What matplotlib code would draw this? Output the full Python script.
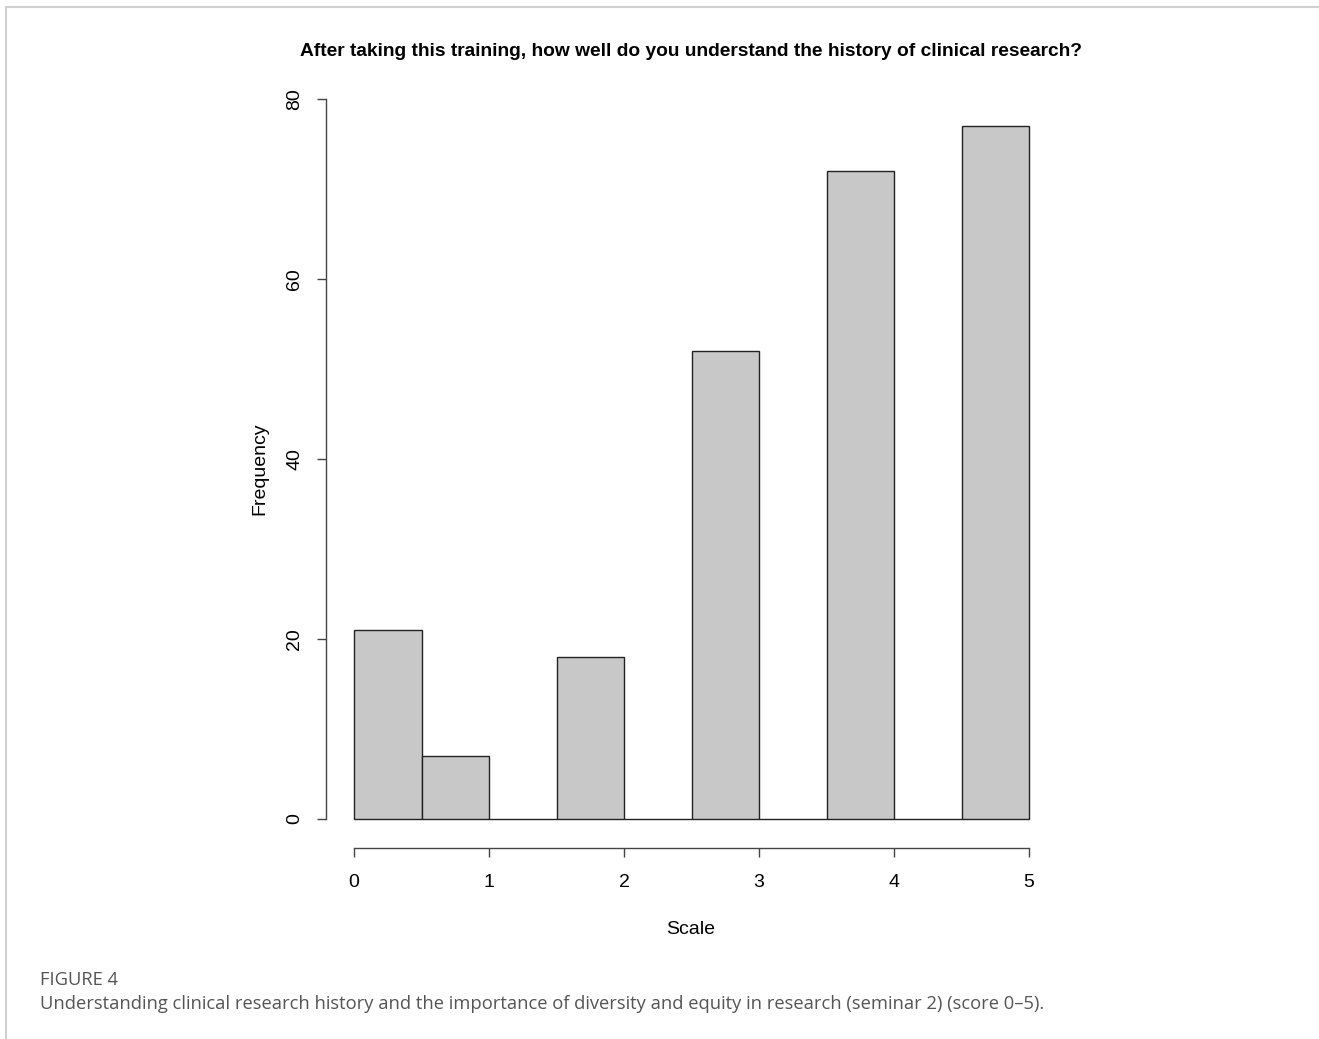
import matplotlib
matplotlib.use("Agg")
import matplotlib.pyplot as plt
from matplotlib.lines import Line2D

# Histogram bins (width 0.5) and counts
bin_edges = [0.0, 0.5, 1.0, 1.5, 2.0, 2.5, 3.0, 3.5, 4.0, 4.5, 5.0]
counts = [21, 7, 0, 18, 0, 52, 0, 72, 0, 77]
x_ticks = [0, 1, 2, 3, 4, 5]
y_ticks = [0, 20, 40, 60, 80]

title = "After taking this training, how well do you understand the history of clinical research?"
caption_head = "FIGURE 4"
caption_text = ("Understanding clinical research history and the importance of diversity "
                "and equity in research (seminar 2) (score 0\u20135).")

W, H = 1319, 1039
fig = plt.figure(figsize=(W / 100, H / 100), dpi=100)

# plot area in pixels: x 0..5 -> 354..1029, y 0..80 -> 819..99
left, right, top, bottom = 354, 1029, 99, 819
ax = fig.add_axes([left / W, 1 - bottom / H, (right - left) / W, (bottom - top) / H])

widths = [bin_edges[i + 1] - bin_edges[i] for i in range(len(counts))]
bars = ax.bar(bin_edges[:-1], counts, width=widths, align="edge",
              color="#c8c8c8", edgecolor="#222222", linewidth=1.0)
for b in bars:
    b.set_clip_on(False)
ax.set_xlim(bin_edges[0], bin_edges[-1])
ax.set_ylim(y_ticks[0], y_ticks[-1])

font = "Liberation Sans"
for s in ["top", "right"]:
    ax.spines[s].set_visible(False)
ax.spines["left"].set_position(("outward", 20))
ax.spines["bottom"].set_position(("outward", 21))
ax.spines["left"].set_bounds(y_ticks[0], y_ticks[-1])
ax.spines["bottom"].set_bounds(x_ticks[0], x_ticks[-1])
for s in ["left", "bottom"]:
    ax.spines[s].set_color("#444444")
    ax.spines[s].set_linewidth(1.0)

ax.set_xticks(x_ticks)
ax.set_yticks(y_ticks)
ax.tick_params(axis="both", direction="out", length=6.5, width=1.0, color="#444444")
ax.tick_params(axis="x", pad=12)
ax.tick_params(axis="y", pad=10)
for lab in ax.get_xticklabels():
    lab.set_fontfamily(font)
    lab.set_fontsize(14)
for lab in ax.get_yticklabels():
    lab.set_fontfamily(font)
    lab.set_fontsize(14)
    lab.set_rotation(90)
    lab.set_va("center")

fig.text(691 / W, 1 - 930 / H, "Scale", ha="center", va="center",
         fontfamily=font, fontsize=14)
fig.text(260 / W, 1 - 469 / H, "Frequency", ha="center", va="center",
         rotation=90, fontfamily=font, fontsize=14)
fig.text(691 / W, 1 - 51 / H, title, ha="center", va="center",
         fontfamily=font, fontsize=13.8, fontweight="bold")

# caption below the chart
fig.text(40 / W, 1 - 980 / H, caption_head, ha="left", va="center",
         fontfamily="Open Sans", fontsize=13.2, color="#555555")
fig.text(40 / W, 1 - 1004 / H, caption_text, ha="left", va="center",
         fontfamily="Open Sans", fontsize=13.2, color="#555555")

# light frame at top and left edge
fig.add_artist(Line2D([6 / W, 1], [1 - 7 / H, 1 - 7 / H], color="#d0d0d0", lw=1.5,
                      transform=fig.transFigure))
fig.add_artist(Line2D([6 / W, 6 / W], [0, 1 - 7 / H], color="#d0d0d0", lw=1.5,
                      transform=fig.transFigure))

fig.savefig("out.png", dpi=100)
